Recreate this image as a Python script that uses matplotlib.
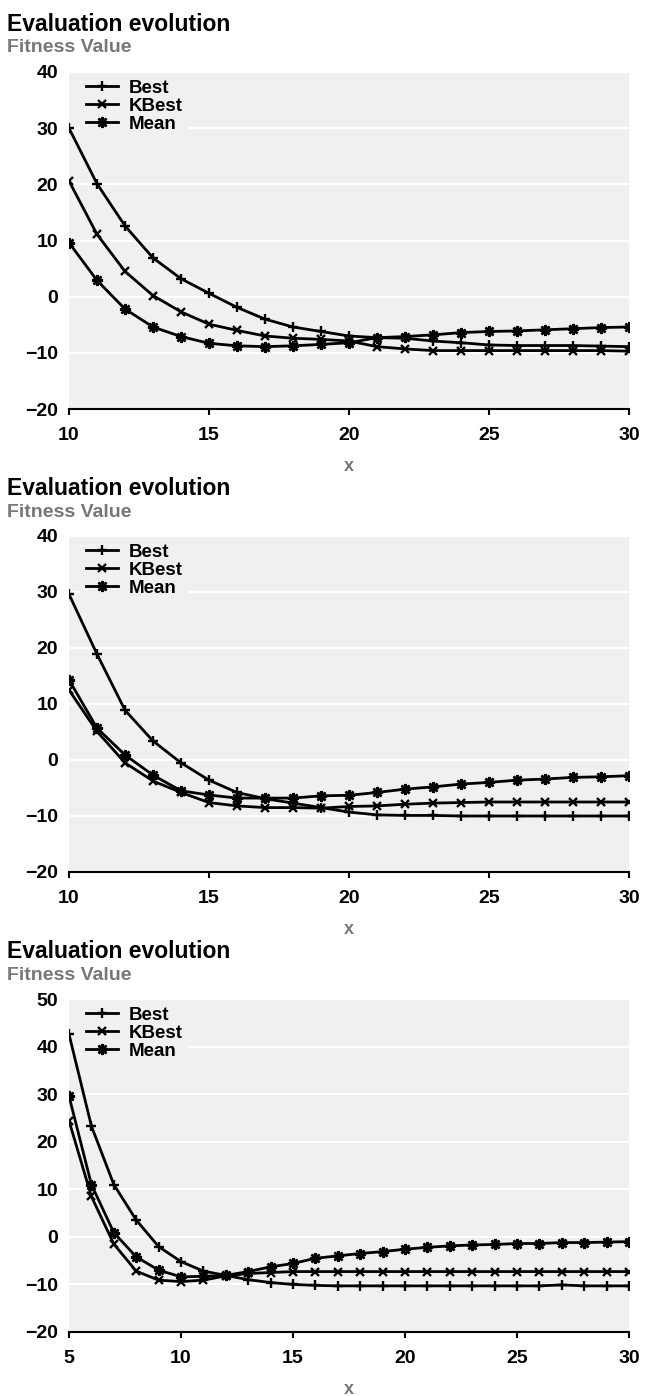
import numpy as np
import matplotlib
matplotlib.use("Agg")
import matplotlib.pyplot as plt

plt.rcParams['font.family'] = ['Liberation Sans', 'DejaVu Sans']
plt.rcParams['font.weight'] = 'bold'

# --- data ---
x1 = list(range(10, 31))
best1 = [30.0, 20.1, 12.6, 6.9, 3.2, 0.6, -1.9, -4.0, -5.4, -6.2, -7.0,
         -7.3, -7.4, -7.9, -8.2, -8.6, -8.7, -8.7, -8.7, -8.8, -8.9]
kbest1 = [20.6, 11.1, 4.5, 0.2, -2.7, -4.9, -6.0, -7.0, -7.4, -7.6, -7.9,
          -8.9, -9.3, -9.6, -9.6, -9.6, -9.6, -9.6, -9.6, -9.6, -9.7]
mean1 = [9.6, 2.9, -2.2, -5.4, -7.1, -8.3, -8.75, -8.9, -8.75, -8.5, -8.2,
         -7.3, -7.1, -6.8, -6.4, -6.2, -6.1, -5.9, -5.7, -5.5, -5.4]

x2 = list(range(10, 31))
best2 = [29.6, 18.9, 8.9, 3.4, -0.5, -3.6, -5.8, -6.9, -7.7, -8.5, -9.3,
         -9.8, -9.9, -9.9, -10.0, -10.0, -10.0, -10.0, -10.0, -10.0, -10.0]
kbest2 = [12.5, 5.1, -0.5, -3.75, -5.8, -7.6, -8.2, -8.5, -8.5, -8.6, -8.3,
          -8.2, -7.9, -7.7, -7.6, -7.5, -7.5, -7.5, -7.5, -7.5, -7.5]
mean2 = [14.3, 5.7, 0.9, -2.7, -5.5, -6.25, -6.8, -6.8, -6.8, -6.4, -6.3,
         -5.8, -5.2, -4.8, -4.3, -4.0, -3.6, -3.4, -3.1, -3.0, -2.8]

x3 = list(range(5, 31))
best3 = [42.6, 23.3, 11.0, 3.55, -2.05, -5.2, -7.2, -8.1, -9.0, -9.6, -10.0,
         -10.2, -10.3, -10.3, -10.3, -10.3, -10.3, -10.3, -10.3, -10.3, -10.3,
         -10.3, -10.1, -10.3, -10.3, -10.3]
kbest3 = [24.4, 8.5, -1.5, -7.2, -9.1, -9.4, -9.1, -8.2, -7.7, -7.5, -7.3,
          -7.3, -7.3, -7.3, -7.3, -7.3, -7.3, -7.3, -7.3, -7.3, -7.3,
          -7.3, -7.3, -7.3, -7.3, -7.3]
mean3 = [29.6, 11.0, 0.9, -4.2, -7.0, -8.4, -8.3, -8.1, -7.3, -6.3, -5.6,
         -4.5, -4.0, -3.5, -3.1, -2.6, -2.2, -1.9, -1.7, -1.6, -1.4,
         -1.4, -1.2, -1.2, -1.1, -1.0]

panels = [
    (x1, best1, kbest1, mean1, (10, 30), (-20, 40), 72, 409),
    (x2, best2, kbest2, mean2, (10, 30), (-20, 40), 536, 872),
    (x3, best3, kbest3, mean3, (5, 30), (-20, 50), 999, 1332),
]

W, H = 646, 1396
fig = plt.figure(figsize=(W / 100, H / 100), dpi=100)

def px_axes(left, top, right, bottom):
    return fig.add_axes([left / W, 1 - bottom / H, (right - left) / W, (bottom - top) / H])

star = (8, 2, 0)

for xs, b, k, m, xlim, ylim, top, bottom in panels:
    ax = px_axes(69, top, 629, bottom)
    ax.set_facecolor('#f0f0f0')
    ax.plot(xs, b, color='black', lw=2, marker='+', ms=7, mew=1.7, label='Best')
    ax.plot(xs, k, color='black', lw=2, marker='x', ms=6, mew=1.7, label='KBest')
    ax.plot(xs, m, color='black', lw=2, marker=star, ms=8, mew=1.8, label='Mean')
    ax.set_xlim(*xlim)
    ax.set_ylim(*ylim)
    ax.set_yticks(np.arange(ylim[0], ylim[1] + 1, 10))
    ax.set_xticks(np.arange(xlim[0], xlim[1] + 1, 5))
    ax.grid(axis='y', color='white', lw=1.5)
    ax.set_axisbelow(True)
    for s in ['top', 'right', 'left']:
        ax.spines[s].set_visible(False)
    ax.spines['bottom'].set_linewidth(1.5)
    ax.tick_params(axis='y', length=0, pad=8, labelsize=14)
    ax.tick_params(axis='x', length=4, width=1.5, pad=9, labelsize=14)
    for lab in ax.get_xticklabels() + ax.get_yticklabels():
        lab.set_fontweight('bold')
    ax.set_xlabel('x', color='#777777', fontsize=13, fontweight='bold', labelpad=10)
    leg = ax.legend(loc='upper left', bbox_to_anchor=(11 / 560, 1 - 2 / (bottom - top)),
                    frameon=True, facecolor='#f0f0f0', edgecolor='none', framealpha=1,
                    fontsize=13.5, handlelength=1.7, handletextpad=0.6,
                    labelspacing=0.05, borderpad=0.3, borderaxespad=0)
    for t in leg.get_texts():
        t.set_fontweight('bold')

    ttop = top - 72
    fig.text(7 / W, 1 - (ttop + 31) / H, 'Evaluation evolution', fontsize=16.5,
             fontweight='bold', va='baseline', ha='left')
    fig.text(7 / W, 1 - (ttop + 52.5) / H, 'Fitness Value', fontsize=14,
             fontweight='bold', color='#777777', va='baseline', ha='left')

fig.savefig('out.png', dpi=100)
